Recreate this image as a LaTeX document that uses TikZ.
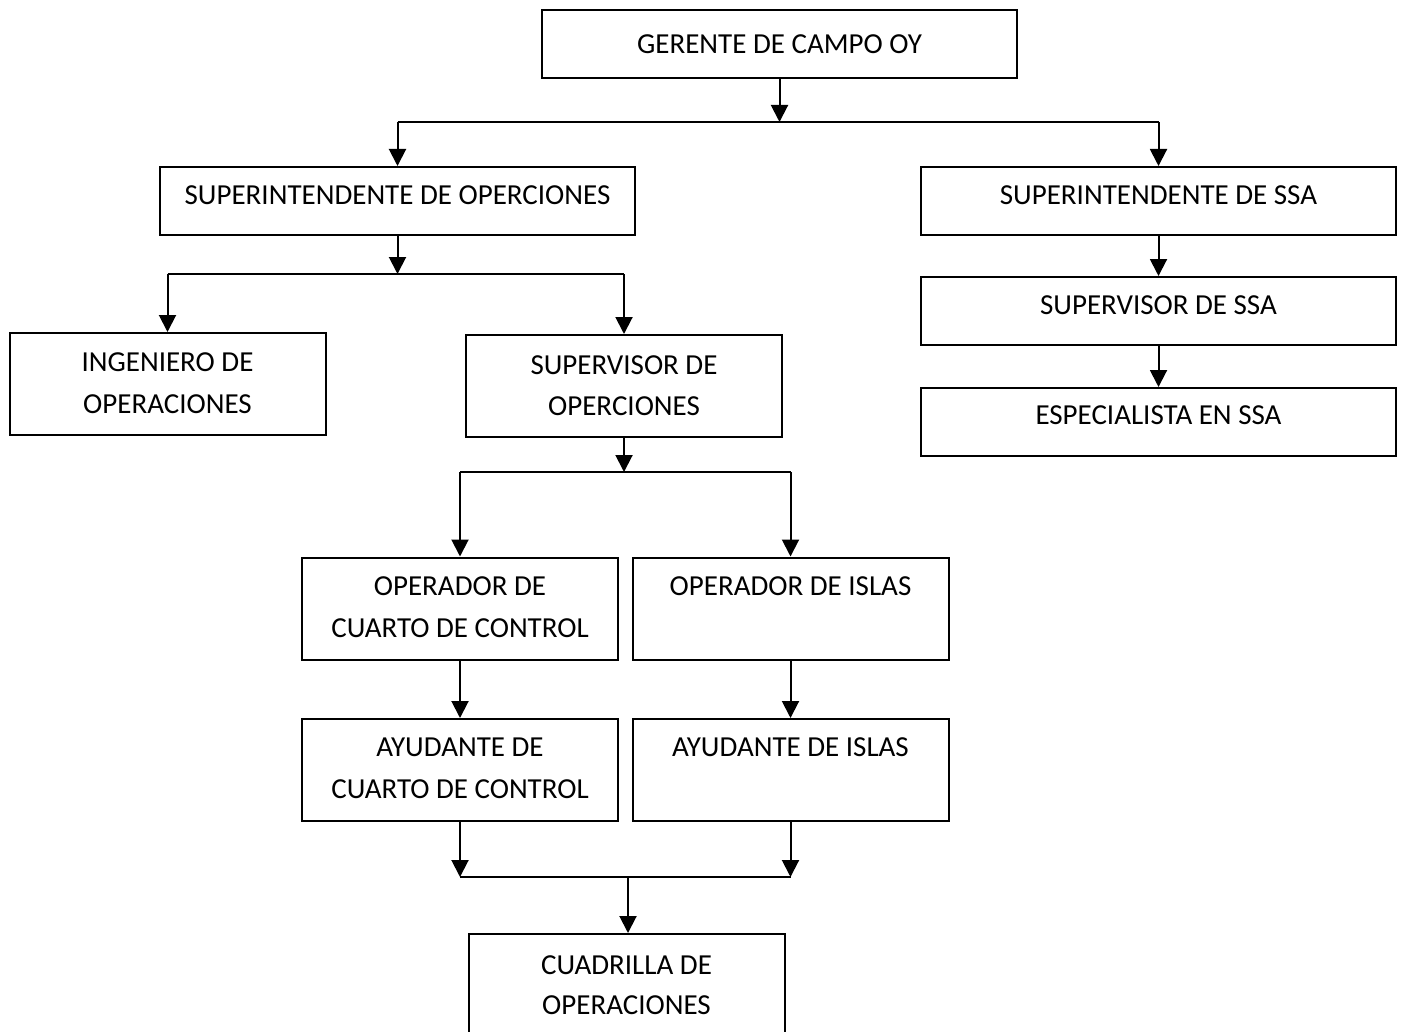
\documentclass[tikz,border=0pt]{standalone}
\usepackage{fontspec}
\setmainfont{Carlito}
\usetikzlibrary{arrows.meta}
\begin{document}
\begin{tikzpicture}[x=0.5pt,y=-0.5pt,
  box/.style={draw,line width=1pt,inner sep=0pt,minimum width=237.5pt,minimum height=34pt},
  wbox/.style={box,minimum width=158pt,minimum height=51pt},
  lbl/.style={inner sep=0pt,font=\fontsize{14.5}{17}\selectfont,text height=9.2pt,text depth=0pt,anchor=center},
  link/.style={line width=1pt},
  arr/.style={link,-{Triangle[width=8.5pt,length=8.5pt]}}]
\useasboundingbox (0,0) rectangle (1401,1032);
\begin{scope}
\clip (0,0) rectangle (1401,1032);

% boxes
\node[box] (g) at (779.5,44.5) {};
\node[box] (so) at (397.5,201) {};
\node[box] (ss) at (1158.5,201) {};
\node[box] (sv) at (1158.5,311) {};
\node[box] (es) at (1158.5,422) {};
\node[wbox] (ing) at (167.5,384) {};
\node[wbox] (sup) at (624,386) {};
\node[wbox] (occ) at (460,608.5) {};
\node[wbox] (oi) at (790.5,608.5) {};
\node[wbox] (acc) at (460,770) {};
\node[wbox] (ai) at (790.5,770) {};
\node[wbox] (cu) at (626.5,985) {};

% labels
\node[lbl] (tg) at (779.5,44) {GERENTE DE CAMPO OY};
\node[lbl] (tso) at (397.5,195) {SUPERINTENDENTE DE OPERCIONES};
\node[lbl] (tss) at (1158.5,195) {SUPERINTENDENTE DE SSA};
\node[lbl] (tsv) at (1158.5,305) {SUPERVISOR DE SSA};
\node[lbl] (tes) at (1158.5,415) {ESPECIALISTA EN SSA};
\node[lbl] (ting1) at (167.5,362.5) {INGENIERO DE};
\node[lbl] (ting2) at (167.5,404) {OPERACIONES};
\node[lbl] (tsup1) at (624,365) {SUPERVISOR DE};
\node[lbl] (tsup2) at (624,406) {OPERCIONES};
\node[lbl] (tocc1) at (460,586) {OPERADOR DE};
\node[lbl] (tocc2) at (460,628) {CUARTO DE CONTROL};
\node[lbl] (toi) at (790.5,586) {OPERADOR DE ISLAS};
\node[lbl] (tacc1) at (460,747) {AYUDANTE DE};
\node[lbl] (tacc2) at (460,789) {CUARTO DE CONTROL};
\node[lbl] (tai) at (790.5,747) {AYUDANTE DE ISLAS};
\node[lbl] (tcu1) at (626.5,965) {CUADRILLA DE};
\node[lbl] (tcu2) at (626.5,1005) {OPERACIONES};

% junction points
\coordinate (j1) at (779.5,122);
\coordinate (j2) at (397.5,274);
\coordinate (j3) at (624,472);
\coordinate (j4) at (628,877);

% connectors
\draw[arr] (g.south) -- (j1);
\draw[link] (j1 -| so.north) -- (j1 -| ss.north);
\draw[arr] (j1 -| so.north) -- (so.north);
\draw[arr] (j1 -| ss.north) -- (ss.north);
\draw[arr] (ss.south) -- (sv.north);
\draw[arr] (sv.south) -- (es.north);

\draw[arr] (so.south) -- (j2);
\draw[link] (j2 -| ing.north) -- (j2 -| sup.north);
\draw[arr] (j2 -| ing.north) -- (ing.north);
\draw[arr] (j2 -| sup.north) -- (sup.north);

\draw[arr] (sup.south) -- (j3);
\draw[link] (j3 -| occ.north) -- (j3 -| oi.north);
\draw[arr] (j3 -| occ.north) -- (occ.north);
\draw[arr] (j3 -| oi.north) -- (oi.north);

\draw[arr] (occ.south) -- (acc.north);
\draw[arr] (oi.south) -- (ai.north);

\draw[arr] (acc.south) -- (j4 -| acc.south);
\draw[arr] (ai.south) -- (j4 -| ai.south);
\draw[link] (j4 -| acc.south) -- (j4 -| ai.south);
\draw[arr] (j4) -- (j4 |- cu.north);
\end{scope}
\end{tikzpicture}
\end{document}
